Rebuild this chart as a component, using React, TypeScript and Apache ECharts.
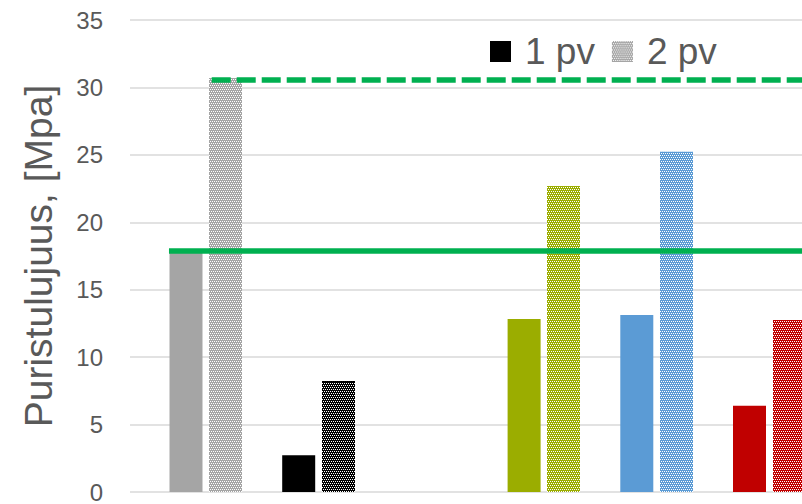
import React, { useEffect, useRef } from 'react';
import * as echarts from 'echarts';

// ---- data ----
const categories = ['Vertailu', 'Seos 1', 'Seos 2', 'Seos 3', 'Seos 4', 'Seos 5'];
const seriesNames = ['1 pv', '2 pv'];
const values1pv: (number | null)[] = [17.9, 2.72, null, 12.83, 13.12, 6.4];
const values2pv: (number | null)[] = [30.7, 8.23, null, 22.69, 25.23, 12.75];
const barColors = ['#a5a5a5', '#000000', '#ffc000', '#9bad00', '#5b9bd5', '#c00000'];
const yMin = 0;
const yMax = 35;
const yInterval = 5;
const axisTitle = 'Puristulujuus, [Mpa]';
// reference levels: value, start position as fraction of plot width, dashed?
const refValues = [17.9, 30.55];
const refStarts = [0.058, 0.1216];
const refDashed = [false, true];

const FONT = '"Liberation Sans", Arial, sans-serif';
const TEXT = '#595959';
const GREEN = '#00b050';
const BAR_W = 33;
const BAR_GAP = 6.6;

// white cells of the 4x4 checker tile (rows 0 and 2, staggered)
const WHITE_CELLS = [[0, 0], [2, 0], [1, 2], [3, 2]];

function tileCanvas(size: number, fg: string | null, bg: string | null) {
  const canvas = document.createElement('canvas');
  canvas.width = size;
  canvas.height = size;
  const ctx = canvas.getContext('2d')!;
  ctx.clearRect(0, 0, size, size);
  if (bg) {
    ctx.fillStyle = bg;
    ctx.fillRect(0, 0, size, size);
  }
  if (fg) {
    ctx.fillStyle = fg;
    for (let ox = 0; ox < size; ox += 4) {
      for (let oy = 0; oy < size; oy += 4) {
        WHITE_CELLS.forEach(([x, y]) => ctx.fillRect(ox + x, oy + y, 1, 1));
      }
    }
  }
  return canvas.toDataURL('image/png');
}

// per-row dash settings reproducing the checker (row index mod 4); null = no white
const ROW_DASH: ({ dash: number[]; offset: number } | null)[] = [
  { dash: [1, 1], offset: 0 },
  null,
  { dash: [1, 1], offset: 1 },
  null,
];

export default function App() {
  const ref = useRef<HTMLDivElement>(null);

  useEffect(() => {
    if (!ref.current) return;
    const chart = echarts.init(ref.current, undefined, { renderer: 'svg' });

    const solidData = values1pv.map((v, i) => ({
      value: v,
      itemStyle: { color: barColors[i] },
    }));
    const texturedData = values2pv.map((v, i) => [i, v == null ? NaN : v]);
    const legendIcon = 'image://' + tileCanvas(20, '#ffffff', '#a5a5a5');

    const markData: any[] = refValues.map((v, i) => [
      {
        coord: [refStarts[i], v],
        lineStyle: {
          color: GREEN,
          width: 5.5,
          type: refDashed[i] ? [19, 6] : 'solid',
          cap: 'butt',
        },
      },
      { coord: [1, v] },
    ]);

    const renderTextured = (params: any, api: any) => {
      const idx = api.value(0);
      const v = api.value(1);
      if (v == null || isNaN(v)) return null;
      const base = api.coord([idx, 0]);
      const top = api.coord([idx, v]);
      const cx = base[0] + (BAR_W + BAR_GAP) / 2;
      const x = Math.round(cx - BAR_W / 2);
      const y = top[1];
      const h = base[1] - top[1];
      const color = barColors[idx];
      const children: any[] = [
        { type: 'rect', shape: { x, y, width: BAR_W, height: h }, style: { fill: color } },
      ];
      const rows = Math.floor(h);
      for (let r = 0; r < rows; r++) {
        const d = ROW_DASH[r % 4];
        if (!d) continue;
        const yy = Math.round(base[1]) - r - 0.5;
        children.push({
          type: 'line',
          shape: { x1: x, y1: yy, x2: x + BAR_W, y2: yy },
          style: { stroke: '#ffffff', lineWidth: 1, lineDash: d.dash, lineDashOffset: d.offset },
          silent: true,
        });
      }
      return { type: 'group', children };
    };

    const option: any = {
      animation: false,
      backgroundColor: '#ffffff',
      textStyle: { fontFamily: FONT },
      legend: {
        left: 485,
        top: 28,
        itemWidth: 21,
        itemHeight: 21,
        itemGap: 17,
        textStyle: { fontSize: 37, color: TEXT, fontFamily: FONT, padding: [0, 0, 0, 9] },
        data: [
          { name: seriesNames[0], icon: 'rect', itemStyle: { color: '#000000' } },
          { name: seriesNames[1], icon: legendIcon },
        ],
      },
      grid: [
        { left: 130, right: 0, top: 20, bottom: 12, containLabel: false, outerBoundsMode: 'none' },
        { left: 149.45, width: 676.2, top: 20, bottom: 12, containLabel: false, outerBoundsMode: 'none' },
      ],
      xAxis: [
        { type: 'value', gridIndex: 0, min: 0, max: 1, show: false },
        { type: 'category', gridIndex: 1, data: categories, show: false },
      ],
      yAxis: [
        {
          type: 'value',
          gridIndex: 0,
          min: yMin,
          max: yMax,
          interval: yInterval,
          axisLine: { show: false },
          axisTick: { show: false },
          axisLabel: { fontSize: 24, color: TEXT, margin: 27, fontFamily: FONT },
          splitLine: { lineStyle: { color: '#d9d9d9', width: 1.5 } },
          name: axisTitle,
          nameLocation: 'middle',
          nameRotate: 90,
          nameGap: 72,
          nameTextStyle: { fontSize: 39, color: TEXT, fontFamily: FONT },
        },
        {
          type: 'value',
          gridIndex: 1,
          min: yMin,
          max: yMax,
          interval: yInterval,
          show: false,
          splitLine: { show: false },
        },
      ],
      series: [
        {
          name: seriesNames[0],
          type: 'bar',
          xAxisIndex: 1,
          yAxisIndex: 1,
          barWidth: BAR_W,
          barGap: '20%',
          data: solidData,
        },
        {
          name: 'slot',
          type: 'bar',
          xAxisIndex: 1,
          yAxisIndex: 1,
          barWidth: BAR_W,
          barGap: '20%',
          data: values2pv.map(() => null),
          silent: true,
        },
        {
          name: seriesNames[1],
          type: 'custom',
          xAxisIndex: 1,
          yAxisIndex: 1,
          encode: { x: 0, y: 1 },
          data: texturedData,
          renderItem: renderTextured,
          silent: true,
          z: 2,
        },
        {
          name: 'ref',
          type: 'line',
          xAxisIndex: 0,
          yAxisIndex: 0,
          data: [],
          z: 5,
          silent: true,
          markLine: {
            silent: true,
            symbol: ['none', 'none'],
            label: { show: false },
            data: markData,
          },
        },
      ],
    };

    chart.setOption(option);
    return () => chart.dispose();
  }, []);

  return (
    <div
      ref={ref}
      style={{ position: 'absolute', left: 0, top: 0, width: 802, height: 504, background: '#fff' }}
    />
  );
}
